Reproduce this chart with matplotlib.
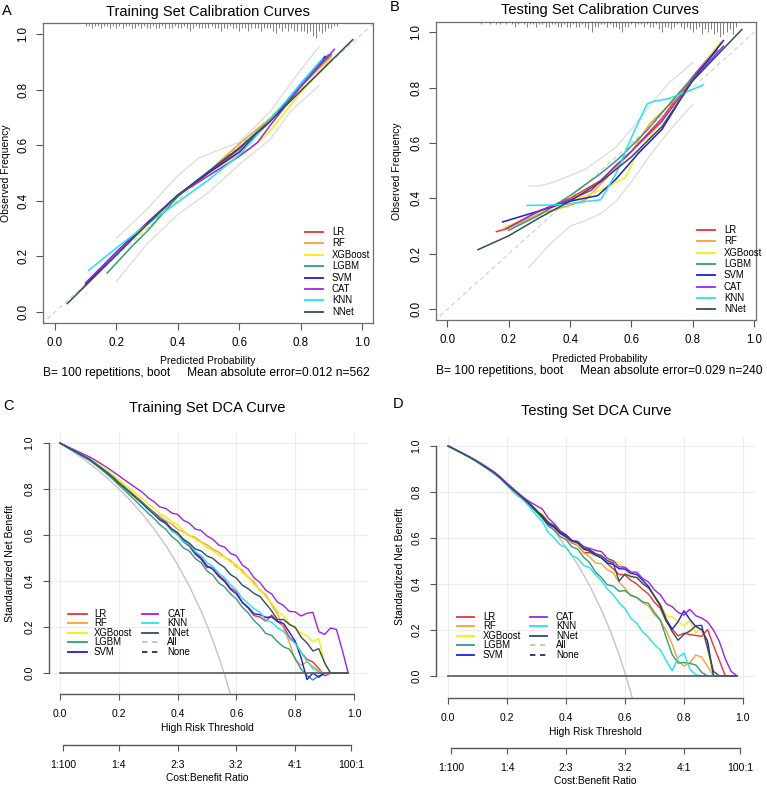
import numpy as np
import matplotlib
matplotlib.use("Agg")
import matplotlib.pyplot as plt
from matplotlib.lines import Line2D

plt.rcParams['font.family'] = ['Liberation Sans', 'DejaVu Sans']

W, H = 767, 786

models = ['LR', 'RF', 'XGBoost', 'LGBM', 'SVM', 'CAT', 'KNN', 'NNet']
colors = ['#F23030', '#FF9F2E', '#FAEE00', '#2E9E78', '#1A1AF2', '#A020F0', '#1CE6F0', '#2F4F5A']

# ---- calibration, training set (predicted, observed) ----
cal_tr_lr_x = [0.10, 0.20, 0.30, 0.40, 0.50, 0.60, 0.70, 0.80, 0.90]
cal_tr_lr_y = [0.10, 0.215, 0.32, 0.42, 0.50, 0.585, 0.685, 0.81, 0.925]
cal_tr_rf_x = [0.08, 0.20, 0.30, 0.40, 0.50, 0.60, 0.70, 0.80, 0.90]
cal_tr_rf_y = [0.075, 0.205, 0.315, 0.42, 0.505, 0.605, 0.695, 0.81, 0.92]
cal_tr_xgb_x = [0.10, 0.20, 0.30, 0.40, 0.50, 0.58, 0.64, 0.70, 0.80, 0.90]
cal_tr_xgb_y = [0.10, 0.21, 0.31, 0.415, 0.50, 0.555, 0.59, 0.65, 0.79, 0.91]
cal_tr_lgbm_x = [0.17, 0.25, 0.30, 0.40, 0.50, 0.60, 0.70, 0.80, 0.89]
cal_tr_lgbm_y = [0.14, 0.235, 0.29, 0.415, 0.505, 0.59, 0.69, 0.815, 0.925]
cal_tr_svm_x = [0.10, 0.20, 0.30, 0.40, 0.50, 0.60, 0.70, 0.80, 0.88]
cal_tr_svm_y = [0.10, 0.215, 0.32, 0.42, 0.50, 0.575, 0.685, 0.82, 0.92]
cal_tr_cat_x = [0.10, 0.20, 0.30, 0.40, 0.50, 0.60, 0.66, 0.70, 0.80, 0.91]
cal_tr_cat_y = [0.105, 0.215, 0.32, 0.42, 0.49, 0.56, 0.61, 0.67, 0.81, 0.945]
cal_tr_knn_x = [0.11, 0.20, 0.30, 0.40, 0.50, 0.60, 0.70, 0.80, 0.87]
cal_tr_knn_y = [0.15, 0.23, 0.315, 0.395, 0.475, 0.565, 0.69, 0.82, 0.91]
cal_tr_nnet_x = [0.04, 0.10, 0.20, 0.30, 0.40, 0.50, 0.60, 0.70, 0.80, 0.97]
cal_tr_nnet_y = [0.03, 0.095, 0.205, 0.315, 0.42, 0.505, 0.59, 0.685, 0.795, 0.98]
ci_tr_up_x = [0.20, 0.30, 0.40, 0.47, 0.55, 0.60, 0.70, 0.80, 0.86]
ci_tr_up_y = [0.265, 0.37, 0.49, 0.555, 0.59, 0.61, 0.72, 0.87, 0.955]
ci_tr_lo_x = [0.20, 0.30, 0.40, 0.50, 0.60, 0.70, 0.77, 0.86]
ci_tr_lo_y = [0.11, 0.245, 0.35, 0.43, 0.53, 0.62, 0.725, 0.815]

# ---- calibration, testing set ----
cal_te_lr_x = [0.16, 0.19, 0.30, 0.40, 0.50, 0.60, 0.70, 0.80, 0.89]
cal_te_lr_y = [0.28, 0.29, 0.355, 0.40, 0.465, 0.57, 0.69, 0.84, 0.96]
cal_te_rf_x = [0.185, 0.30, 0.40, 0.45, 0.55, 0.60, 0.66, 0.74, 0.83, 0.88]
cal_te_rf_y = [0.285, 0.345, 0.375, 0.395, 0.51, 0.57, 0.67, 0.755, 0.86, 0.95]
cal_te_xgb_x = [0.185, 0.30, 0.40, 0.50, 0.58, 0.62, 0.70, 0.80, 0.89]
cal_te_xgb_y = [0.295, 0.35, 0.39, 0.43, 0.475, 0.565, 0.68, 0.83, 0.965]
cal_te_lgbm_x = [0.20, 0.30, 0.40, 0.50, 0.56, 0.65, 0.75, 0.85, 0.88]
cal_te_lgbm_y = [0.285, 0.34, 0.41, 0.49, 0.545, 0.645, 0.775, 0.90, 0.935]
cal_te_svm_x = [0.18, 0.30, 0.40, 0.49, 0.55, 0.62, 0.70, 0.80, 0.90]
cal_te_svm_y = [0.315, 0.355, 0.39, 0.41, 0.47, 0.56, 0.65, 0.83, 0.97]
cal_te_cat_x = [0.19, 0.30, 0.40, 0.47, 0.55, 0.60, 0.70, 0.80, 0.90]
cal_te_cat_y = [0.29, 0.355, 0.395, 0.43, 0.52, 0.57, 0.68, 0.83, 0.95]
cal_te_knn_x = [0.26, 0.30, 0.38, 0.46, 0.50, 0.55, 0.60, 0.65, 0.67, 0.72, 0.78, 0.835]
cal_te_knn_y = [0.375, 0.375, 0.378, 0.39, 0.395, 0.49, 0.62, 0.74, 0.75, 0.76, 0.785, 0.81]
cal_te_nnet_x = [0.10, 0.20, 0.30, 0.40, 0.50, 0.60, 0.70, 0.80, 0.96]
cal_te_nnet_y = [0.215, 0.265, 0.33, 0.39, 0.46, 0.55, 0.66, 0.825, 1.01]
ci_te_up_x = [0.265, 0.30, 0.35, 0.45, 0.55, 0.60, 0.65, 0.72, 0.80]
ci_te_up_y = [0.445, 0.445, 0.46, 0.505, 0.585, 0.65, 0.72, 0.815, 0.89]
ci_te_lo_x = [0.265, 0.33, 0.40, 0.45, 0.50, 0.55, 0.60, 0.65, 0.72, 0.80]
ci_te_lo_y = [0.15, 0.23, 0.30, 0.32, 0.345, 0.39, 0.46, 0.54, 0.64, 0.74]

# rug of predicted probabilities (counts per 0.01 bin)
rug_tr_start = 0.10
rug_tr_n = [1, 1, 2, 1, 1, 2, 1, 1, 2, 1,
            2, 1, 2, 1, 1, 2, 2, 1, 2, 1,
            2, 2, 1, 2, 2, 1, 2, 2, 2, 1,
            2, 2, 1, 2, 3, 2, 1, 2, 2, 2,
            2, 1, 2, 2, 3, 2, 2, 1, 2, 2,
            3, 2, 2, 3, 2, 2, 2, 3, 2, 2,
            2, 3, 4, 2, 3, 2, 3, 2, 3, 3,
            3, 3, 4, 3, 5, 6, 3, 4, 3, 2,
            2, 1, 1]
rug_te_start = 0.11
rug_te_n = [1, 0, 0, 1, 0, 1, 1, 0, 1, 0,
            1, 2, 1, 0, 1, 2, 1, 1, 2, 1,
            1, 2, 2, 1, 1, 2, 2, 1, 2, 2,
            1, 2, 2, 1, 2, 3, 4, 2, 2, 1,
            1, 2, 1, 2, 2, 3, 4, 2, 2, 1,
            2, 1, 1, 2, 1, 2, 2, 1, 3, 4,
            2, 2, 3, 2, 1, 2, 3, 2, 3, 4,
            3, 2, 5, 3, 4, 3, 5, 4, 6, 5,
            4, 3, 5, 2]

# ---- decision curves, thresholds 0.00 .. 0.98 step 0.02 ----
thresholds = np.round(np.arange(0, 0.99, 0.02), 2)

dca_tr_lr = [1.000, 0.986, 0.972, 0.958, 0.944, 0.930, 0.910, 0.893, 0.872, 0.851, 0.826, 0.807, 0.786, 0.764, 0.742, 0.716,
             0.694, 0.668, 0.650, 0.620, 0.602, 0.570, 0.552, 0.516, 0.494, 0.458,
             0.462, 0.426, 0.404, 0.370, 0.354, 0.306, 0.282, 0.250, 0.244, 0.226,
             0.252, 0.224, 0.204, 0.156, 0.132, 0.090, 0.060, 0.048, 0.020, -0.012,
             0, 0, 0, 0]
dca_tr_rf = [1.000, 0.987, 0.974, 0.960, 0.946, 0.932, 0.915, 0.896, 0.877, 0.857, 0.834, 0.812, 0.790, 0.768, 0.745, 0.720,
             0.698, 0.682, 0.662, 0.648, 0.626, 0.614, 0.598, 0.590, 0.570, 0.558,
             0.538, 0.526, 0.503, 0.490, 0.463, 0.447, 0.416, 0.395, 0.360, 0.340,
             0.296, 0.256, 0.196, 0.134, 0.056, 0.034, 0.050, 0.028, 0.010, 0.0,
             0, 0, 0, 0]
dca_tr_xgb = [1.000, 0.987, 0.974, 0.961, 0.948, 0.934, 0.918, 0.900, 0.882, 0.862, 0.840, 0.820, 0.800, 0.780, 0.758, 0.735,
              0.717, 0.693, 0.680, 0.658, 0.645, 0.618, 0.600, 0.578, 0.568, 0.546,
              0.533, 0.512, 0.505, 0.483, 0.471, 0.437, 0.418, 0.384, 0.366, 0.330,
              0.304, 0.268, 0.249, 0.214, 0.194, 0.174, 0.162, 0.136, 0.150, 0.040,
              0, 0, 0, 0]
dca_tr_lgbm = [1.000, 0.985, 0.970, 0.955, 0.940, 0.925, 0.906, 0.886, 0.865, 0.842, 0.818, 0.795, 0.770, 0.746, 0.720, 0.695,
               0.672, 0.645, 0.625, 0.594, 0.574, 0.544, 0.531, 0.498, 0.480, 0.444,
               0.426, 0.392, 0.374, 0.344, 0.322, 0.286, 0.262, 0.228, 0.204, 0.172,
               0.164, 0.136, 0.114, 0.104, 0.064, 0.016, -0.010, -0.030, -0.012, 0.0,
               0, 0, 0, 0]
dca_tr_svm = [1.000, 0.986, 0.971, 0.957, 0.943, 0.929, 0.911, 0.892, 0.873, 0.852, 0.828, 0.806, 0.784, 0.762, 0.740, 0.718,
              0.697, 0.672, 0.655, 0.627, 0.610, 0.577, 0.556, 0.522, 0.501, 0.466,
              0.451, 0.420, 0.398, 0.364, 0.344, 0.308, 0.286, 0.258, 0.254, 0.242,
              0.244, 0.224, 0.216, 0.178, 0.138, 0.066, -0.028, 0.0, -0.018, 0.0,
              0, 0, 0, 0]
dca_tr_cat = [1.000, 0.988, 0.976, 0.964, 0.952, 0.940, 0.926, 0.910, 0.894, 0.876, 0.858, 0.840, 0.822, 0.804, 0.786, 0.762,
              0.745, 0.722, 0.716, 0.696, 0.690, 0.664, 0.652, 0.626, 0.620, 0.596,
              0.582, 0.556, 0.548, 0.520, 0.510, 0.470, 0.452, 0.414, 0.394, 0.360,
              0.344, 0.308, 0.294, 0.268, 0.266, 0.248, 0.260, 0.264, 0.180, 0.168,
              0.196, 0.190, 0.100, 0.0]
dca_tr_knn = [1.000, 0.986, 0.972, 0.958, 0.944, 0.930, 0.912, 0.893, 0.873, 0.852, 0.828, 0.806, 0.783, 0.760, 0.738, 0.715,
              0.694, 0.667, 0.649, 0.618, 0.603, 0.572, 0.559, 0.528, 0.511, 0.480,
              0.463, 0.434, 0.415, 0.384, 0.361, 0.326, 0.303, 0.280, 0.265, 0.230,
              0.221, 0.196, 0.181, 0.150, 0.129, 0.090, 0.052, 0.020, 0.006, 0.0,
              0, 0, 0, 0]
dca_tr_nnet = [1.000, 0.986, 0.972, 0.958, 0.944, 0.930, 0.911, 0.892, 0.872, 0.851, 0.826, 0.805, 0.782, 0.760, 0.737, 0.712,
               0.690, 0.665, 0.651, 0.625, 0.610, 0.582, 0.565, 0.539, 0.531, 0.509,
               0.499, 0.476, 0.459, 0.428, 0.413, 0.382, 0.367, 0.346, 0.333, 0.302,
               0.270, 0.232, 0.233, 0.212, 0.199, 0.156, 0.131, 0.096, 0.106, 0.045,
               0, 0, 0, 0]

dca_te_lr = [1.000, 0.987, 0.974, 0.961, 0.947, 0.932, 0.914, 0.897, 0.880, 0.857, 0.833, 0.812, 0.790, 0.768, 0.742, 0.718,
             0.688, 0.660, 0.645, 0.619, 0.603, 0.578, 0.569, 0.536, 0.536, 0.524,
             0.516, 0.488, 0.466, 0.442, 0.439, 0.416, 0.400, 0.376, 0.356, 0.320,
             0.294, 0.236, 0.204, 0.174, 0.186, 0.180, 0.176, 0.172, 0.202, 0.132,
             0.068, 0.0, 0, 0]
dca_te_rf = [1.000, 0.987, 0.974, 0.961, 0.947, 0.932, 0.915, 0.898, 0.880, 0.856, 0.828, 0.800, 0.778, 0.768, 0.744, 0.720,
             0.695, 0.664, 0.651, 0.626, 0.613, 0.582, 0.569, 0.536, 0.518, 0.491,
             0.488, 0.462, 0.448, 0.408, 0.381, 0.348, 0.341, 0.318, 0.303, 0.266,
             0.241, 0.196, 0.138, 0.066, 0.043, 0.057, 0.091, 0.082, 0.042, 0.0,
             0, 0, 0, 0]
dca_te_xgb = [1.000, 0.987, 0.974, 0.961, 0.947, 0.932, 0.916, 0.899, 0.881, 0.859, 0.836, 0.812, 0.788, 0.768, 0.745, 0.722,
              0.703, 0.672, 0.655, 0.626, 0.607, 0.584, 0.573, 0.548, 0.543, 0.524,
              0.521, 0.501, 0.501, 0.490, 0.463, 0.436, 0.428, 0.406, 0.393, 0.351,
              0.314, 0.261, 0.256, 0.236, 0.218, 0.242, 0.186, 0.210, 0.118, 0.0,
              0, 0, 0, 0]
dca_te_lgbm = [1.000, 0.987, 0.973, 0.960, 0.946, 0.931, 0.914, 0.897, 0.879, 0.856, 0.832, 0.808, 0.786, 0.764, 0.738, 0.712,
               0.685, 0.652, 0.635, 0.606, 0.593, 0.561, 0.551, 0.516, 0.493, 0.451,
               0.428, 0.396, 0.391, 0.368, 0.371, 0.351, 0.341, 0.322, 0.315, 0.276,
               0.243, 0.166, 0.093, 0.056, 0.058, 0.054, 0.048, 0.016, 0.0, 0,
               0, 0, 0, 0]
dca_te_svm = [1.000, 0.987, 0.974, 0.961, 0.947, 0.932, 0.915, 0.898, 0.880, 0.858, 0.835, 0.812, 0.790, 0.770, 0.746, 0.720,
              0.691, 0.660, 0.648, 0.621, 0.606, 0.586, 0.578, 0.552, 0.543, 0.526,
              0.513, 0.491, 0.485, 0.466, 0.465, 0.446, 0.441, 0.416, 0.388, 0.346,
              0.308, 0.246, 0.203, 0.236, 0.283, 0.246, 0.215, 0.201, 0.152, 0.0,
              0, 0, 0, 0]
dca_te_cat = [1.000, 0.987, 0.974, 0.961, 0.948, 0.933, 0.918, 0.901, 0.884, 0.862, 0.838, 0.815, 0.793, 0.772, 0.755, 0.740,
              0.725, 0.686, 0.663, 0.631, 0.615, 0.590, 0.585, 0.562, 0.555, 0.546,
              0.541, 0.511, 0.501, 0.474, 0.473, 0.452, 0.451, 0.424, 0.408, 0.374,
              0.353, 0.314, 0.301, 0.276, 0.265, 0.290, 0.262, 0.252, 0.235, 0.200,
              0.150, 0.075, 0.020, 0.0]
dca_te_knn = [1.000, 0.987, 0.974, 0.960, 0.946, 0.931, 0.914, 0.896, 0.877, 0.855, 0.830, 0.806, 0.782, 0.758, 0.730, 0.698,
              0.671, 0.624, 0.599, 0.570, 0.559, 0.524, 0.511, 0.481, 0.471, 0.441,
              0.415, 0.378, 0.353, 0.318, 0.293, 0.251, 0.228, 0.192, 0.168, 0.136,
              0.113, 0.066, 0.022, 0.080, 0.100, 0.030, 0.005, 0.0, 0, 0,
              0, 0, 0, 0]
dca_te_nnet = [1.000, 0.987, 0.974, 0.960, 0.946, 0.931, 0.914, 0.897, 0.879, 0.857, 0.833, 0.810, 0.788, 0.766, 0.742, 0.716,
               0.698, 0.668, 0.653, 0.626, 0.611, 0.588, 0.581, 0.556, 0.549, 0.532,
               0.523, 0.501, 0.491, 0.412, 0.443, 0.432, 0.428, 0.401, 0.383, 0.346,
               0.303, 0.241, 0.193, 0.155, 0.181, 0.195, 0.218, 0.220, 0.122, 0.020,
               0, 0, 0, 0]

# treat-all reference curves
all_tr_x = [0, 0.04, 0.08, 0.12, 0.16, 0.20, 0.24, 0.28, 0.32, 0.36, 0.40, 0.44, 0.48, 0.50, 0.52, 0.54, 0.56, 0.58]
all_tr_y = [1.0, 0.967, 0.931, 0.892, 0.849, 0.802, 0.750, 0.692, 0.627, 0.555, 0.472, 0.378, 0.269, 0.208, 0.142, 0.070, -0.008, -0.094]
all_te_x = [0, 0.04, 0.08, 0.12, 0.16, 0.20, 0.24, 0.28, 0.32, 0.36, 0.40, 0.44, 0.48, 0.52, 0.54, 0.56, 0.58, 0.60, 0.62, 0.64]
all_te_y = [1.0, 0.973, 0.943, 0.910, 0.875, 0.836, 0.792, 0.744, 0.690, 0.630, 0.561, 0.483, 0.393, 0.287, 0.227, 0.163, 0.091, 0.013, -0.074, -0.170]

cb_labels = ['1:100', '1:4', '2:3', '3:2', '4:1', '100:1']
ticks01 = [0.0, 0.2, 0.4, 0.6, 0.8, 1.0]


def place(l, t, r, b):
    return [l / W, 1 - b / H, (r - l) / W, (b - t) / H]


def ftext(fig, x, y, s, **kw):
    fig.text(x / W, 1 - y / H, s, **kw)


def draw_key(fig, labels, cols, styles, hx0, hx1, tx, rows, fs):
    for lab, c, ls, a, b, t, y in zip(labels, cols, styles, hx0, hx1, tx, rows):
        fig.add_artist(Line2D([a / W, b / W], [1 - y / H, 1 - y / H], color=c, lw=1.3, ls=ls,
                              transform=fig.transFigure))
        ftext(fig, t, y, lab, fontsize=fs, va='center', ha='left')


def calib_panel(ax, xlim, ylim, curves, ci, rug_start, rug_n):
    ax.set_xlim(*xlim)
    ax.set_ylim(*ylim)
    ax.plot([-0.1, 1.1], [-0.1, 1.1], color='#cfcfcf', lw=0.8, ls=(0, (4, 3)))
    for cx, cy in ci:
        ax.plot(cx, cy, color='#dedede', lw=1.0)
    for (cx, cy), c in zip(curves, colors):
        ax.plot(cx, cy, color=c, lw=1.1)
    n = np.array(rug_n)
    rx = np.round(rug_start + 0.01 * np.arange(len(n)), 2)
    keep = n > 0
    ax.vlines(rx[keep], ylim[1] - n[keep] * 0.009, ylim[1], color='#808080', lw=0.7)
    ax.set_xticks(ticks01)
    ax.set_yticks(ticks01)
    ax.tick_params(length=5, width=0.8, pad=5, labelsize=8.3, color='#555555')
    ax.tick_params(axis='y', labelrotation=90)
    for lbl in ax.get_yticklabels():
        lbl.set_va('center')
    for s in ax.spines.values():
        s.set_color('#6e6e6e')
        s.set_linewidth(0.9)


def dca_panel(ax, xlim, ylim, curves, all_x, all_y, sec_loc):
    ax.set_xlim(*xlim)
    ax.set_ylim(*ylim)
    ax.grid(color='#ececec', lw=0.8)
    ax.set_axisbelow(True)
    ax.plot(all_x, all_y, color='#c4c4c4', lw=1.0)
    for cy, c in zip(curves, colors):
        ax.plot(thresholds, cy, color=c, lw=1.0)
    ax.plot(thresholds, np.zeros_like(thresholds), color='#5a5a5a', lw=1.2)
    ax.set_xticks(ticks01)
    ax.set_yticks(ticks01)
    ax.tick_params(length=4.5, width=0.8, pad=6, labelsize=7.5, color='#555555')
    ax.tick_params(axis='y', labelrotation=90)
    for lbl in ax.get_yticklabels():
        lbl.set_va('center')
    for side in ['top', 'right']:
        ax.spines[side].set_visible(False)
    for side in ['left', 'bottom']:
        ax.spines[side].set_bounds(0, 1)
        ax.spines[side].set_color('#555555')
        ax.spines[side].set_linewidth(1.0)
    # cost:benefit ratio axis on the same threshold scale
    cb_pos = []
    for lab in cb_labels:
        cost, benefit = [float(v) for v in lab.split(':')]
        cb_pos.append(cost / (cost + benefit))
    sec = ax.secondary_xaxis(sec_loc)
    sec.set_xticks(cb_pos)
    sec.set_xticklabels(cb_labels)
    sec.tick_params(length=4.5, width=0.8, pad=6, labelsize=7.5, color='#555555')
    sec.spines['bottom'].set_bounds(cb_pos[0], cb_pos[-1])
    sec.spines['bottom'].set_color('#555555')
    sec.spines['bottom'].set_linewidth(1.0)


fig = plt.figure(figsize=(W / 100, H / 100), dpi=100)

# A
axA = fig.add_axes(place(43, 23, 373, 323))
calib_panel(axA, (-0.039, 1.036), (-0.04, 1.04),
            [(cal_tr_lr_x, cal_tr_lr_y), (cal_tr_rf_x, cal_tr_rf_y), (cal_tr_xgb_x, cal_tr_xgb_y),
             (cal_tr_lgbm_x, cal_tr_lgbm_y), (cal_tr_svm_x, cal_tr_svm_y), (cal_tr_cat_x, cal_tr_cat_y),
             (cal_tr_knn_x, cal_tr_knn_y), (cal_tr_nnet_x, cal_tr_nnet_y)],
            [(ci_tr_up_x, ci_tr_up_y), (ci_tr_lo_x, ci_tr_lo_y)], rug_tr_start, rug_tr_n)

# B
axB = fig.add_axes(place(436, 22, 756, 320))
calib_panel(axB, (-0.037, 1.006), (-0.039, 1.037),
            [(cal_te_lr_x, cal_te_lr_y), (cal_te_rf_x, cal_te_rf_y), (cal_te_xgb_x, cal_te_xgb_y),
             (cal_te_lgbm_x, cal_te_lgbm_y), (cal_te_svm_x, cal_te_svm_y), (cal_te_cat_x, cal_te_cat_y),
             (cal_te_knn_x, cal_te_knn_y), (cal_te_nnet_x, cal_te_nnet_y)],
            [(ci_te_up_x, ci_te_up_y), (ci_te_lo_x, ci_te_lo_y)], rug_te_start, rug_te_n)

# C
axC = fig.add_axes(place(49, 432, 367, 694))
dca_panel(axC, (-0.037, 1.044), (-0.091, 1.048),
          [dca_tr_lr, dca_tr_rf, dca_tr_xgb, dca_tr_lgbm, dca_tr_svm, dca_tr_cat, dca_tr_knn, dca_tr_nnet],
          all_tr_x, all_tr_y, -0.195)

# D
axD = fig.add_axes(place(436, 437, 755, 698))
dca_panel(axD, (-0.041, 1.041), (-0.096, 1.039),
          [dca_te_lr, dca_te_rf, dca_te_xgb, dca_te_lgbm, dca_te_svm, dca_te_cat, dca_te_knn, dca_te_nnet],
          all_te_x, all_te_y, -0.192)

# titles, panel letters, axis labels
ftext(fig, 208, 12, 'Training Set Calibration Curves', fontsize=10.5, ha='center', va='center')
ftext(fig, 600, 10, 'Testing Set Calibration Curves', fontsize=10.5, ha='center', va='center')
ftext(fig, 207, 408, 'Training Set DCA Curve', fontsize=10.5, ha='center', va='center')
ftext(fig, 596, 411, 'Testing Set DCA Curve', fontsize=10.5, ha='center', va='center')
for letter, x, y in [('A', 2, 11), ('B', 390, 7), ('C', 3, 406), ('D', 393, 404)]:
    ftext(fig, x, y, letter, fontsize=10.5, ha='left', va='center')

ftext(fig, 6, 173, 'Observed Frequency', fontsize=7.5, rotation=90, ha='center', va='center')
ftext(fig, 397, 171, 'Observed Frequency', fontsize=7.5, rotation=90, ha='center', va='center')
ftext(fig, 208, 361, 'Predicted Probability', fontsize=7.5, ha='center', va='center')
ftext(fig, 600, 359, 'Predicted Probability', fontsize=7.5, ha='center', va='center')
ftext(fig, 43, 373, 'B= 100 repetitions, boot     Mean absolute error=0.012 n=562', fontsize=8.65,
      ha='left', va='center')
ftext(fig, 436, 371, 'B= 100 repetitions, boot     Mean absolute error=0.029 n=240', fontsize=8.65,
      ha='left', va='center')

ftext(fig, 10, 563, 'Standardized Net Benefit', fontsize=7.6, rotation=90, ha='center', va='center')
ftext(fig, 400, 566, 'Standardized Net Benefit', fontsize=7.6, rotation=90, ha='center', va='center')
ftext(fig, 207, 728, 'High Risk Threshold', fontsize=7.4, ha='center', va='center')
ftext(fig, 595, 732, 'High Risk Threshold', fontsize=7.4, ha='center', va='center')
ftext(fig, 207, 778, 'Cost:Benefit Ratio', fontsize=7.4, ha='center', va='center')
ftext(fig, 595, 781, 'Cost:Benefit Ratio', fontsize=7.4, ha='center', va='center')

# legends
solid = ['-'] * 8
rowsA = [232 + 11.4 * i for i in range(8)]
draw_key(fig, models, colors, solid, [305] * 8, [323] * 8, [332] * 8, rowsA, 6.9)
rowsB = [230 + 11.35 * i for i in range(8)]
draw_key(fig, models, colors, solid, [697] * 8, [715] * 8, [724] * 8, rowsB, 6.9)

dca_labels = models + ['All', 'None']
dca_colors = colors + ['#c4c4c4', '#2a2a6a']
dca_styles = solid + [(0, (3, 2.5)), (0, (3, 2.5))]
rowsC = [614 + 9.4 * (i % 5) for i in range(10)]
draw_key(fig, dca_labels, dca_colors, dca_styles,
         [68] * 5 + [142] * 5, [87] * 5 + [158] * 5, [94] * 5 + [167] * 5, rowsC, 6.9)
rowsD = [617 + 9.4 * (i % 5) for i in range(10)]
draw_key(fig, dca_labels, dca_colors, dca_styles,
         [457] * 5 + [530] * 5, [474] * 5 + [547] * 5, [483] * 5 + [556] * 5, rowsD, 6.9)

fig.savefig('out.png', dpi=100)
